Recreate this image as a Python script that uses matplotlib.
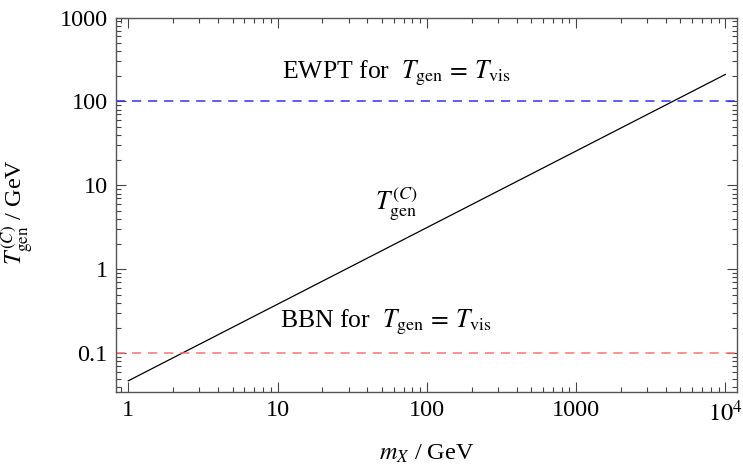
import numpy as np
import matplotlib.pyplot as plt
from matplotlib.ticker import LogLocator, FixedLocator, NullFormatter

plt.rcParams['font.family'] = 'Liberation Serif'
plt.rcParams['mathtext.fontset'] = 'stix'

# data
m_x = [1.0, 10000.0]
t_gen = [0.047, 210.0]
ewpt_level = 100.0
bbn_level = 0.1

xticks = [1, 10, 100, 1000, 10000]
xlabels = ['1', '10', '100', '1000', '$10^4$']
yticks = [0.1, 1, 10, 100, 1000]
ylabels = ['0.1', '1', '10', '100', '1000']

fig = plt.figure(figsize=(7.43, 4.74), dpi=100)
ax = fig.add_axes([0.156, 0.173, 0.836, 0.790])

ax.plot(m_x, t_gen, color='black', lw=0.9)
ax.axhline(ewpt_level, color='#3030ff', lw=1.1, dashes=(6, 4.5))
ax.axhline(bbn_level, color='#ff7070', lw=1.1, dashes=(6, 4.5))

ax.set_xscale('log')
ax.set_yscale('log')
ax.set_xlim(0.827, 11980)
ax.set_ylim(0.0346, 1000)

ax.xaxis.set_major_locator(FixedLocator(xticks))
ax.set_xticklabels(xlabels)
ax.yaxis.set_major_locator(FixedLocator(yticks))
ax.set_yticklabels(ylabels)
ax.xaxis.set_minor_locator(LogLocator(base=10, subs=np.arange(2, 10)))
ax.yaxis.set_minor_locator(LogLocator(base=10, subs=np.arange(2, 10)))
ax.xaxis.set_minor_formatter(NullFormatter())
ax.yaxis.set_minor_formatter(NullFormatter())

ax.tick_params(which='both', direction='in', top=True, right=True, width=0.8, color='#444444')
ax.tick_params(which='major', length=7, labelsize=17.5, pad=6)
ax.tick_params(which='minor', length=3.5)
for s in ax.spines.values():
    s.set_color('#555555')
    s.set_linewidth(1.0)

ax.set_xlabel(r'$m_X$ / GeV', fontsize=17.5, labelpad=12)
ax.set_ylabel(r'$T^{(C)}_{\mathrm{gen}}$ / GeV', fontsize=17.5)
ax.yaxis.set_label_coords(-0.13, 0.48)

ax.text(0.452, 0.852, r'EWPT for  $T_{\mathrm{gen}}\,=\,T_{\mathrm{vis}}$', transform=ax.transAxes,
        ha='center', va='center', fontsize=18.5)
ax.text(0.435, 0.187, r'BBN for  $T_{\mathrm{gen}}\,=\,T_{\mathrm{vis}}$', transform=ax.transAxes,
        ha='center', va='center', fontsize=18.5)
ax.text(0.452, 0.50, r'$T^{(C)}_{\mathrm{gen}}$', transform=ax.transAxes,
        ha='center', va='center', fontsize=18.5)

fig.savefig('out.png', dpi=100)
